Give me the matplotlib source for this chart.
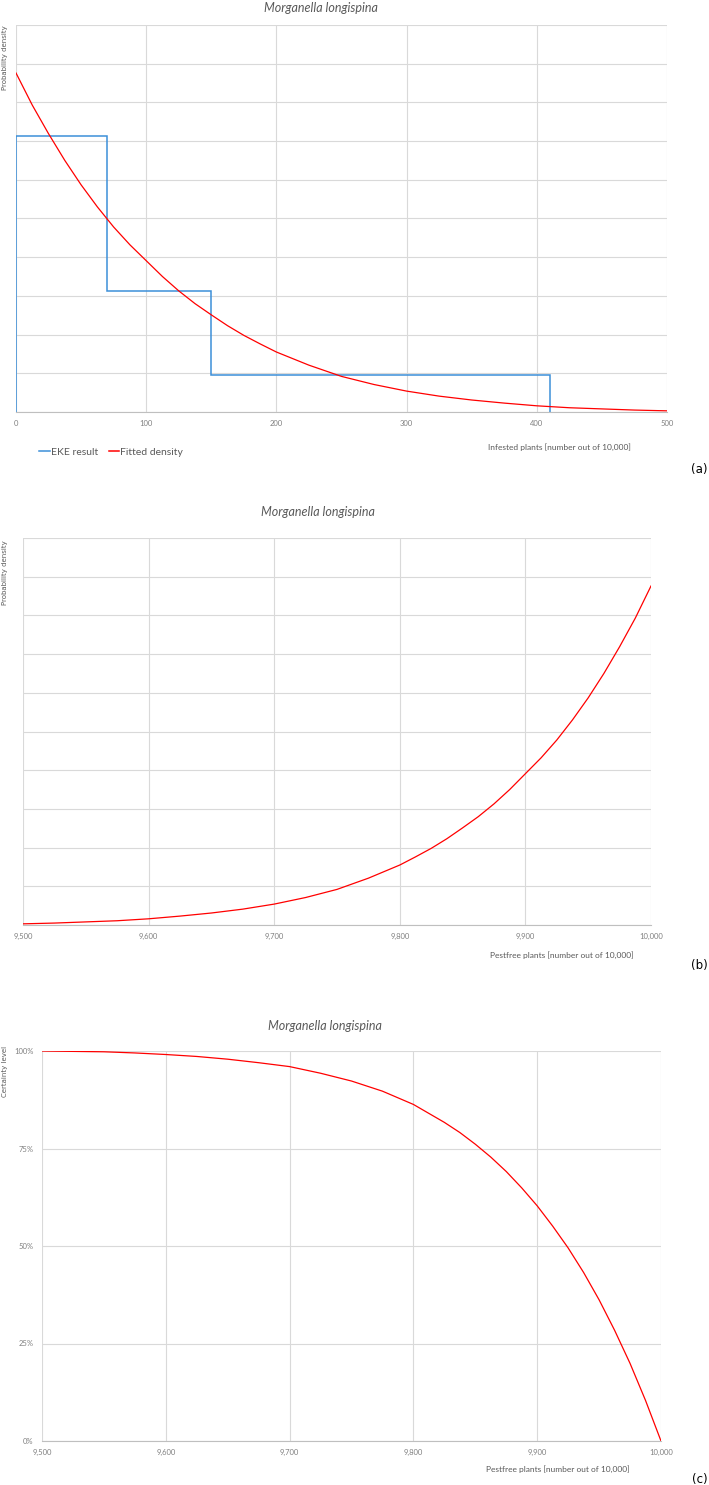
import matplotlib.pyplot as plt
from matplotlib.lines import Line2D
from matplotlib.ticker import StrMethodFormatter, PercentFormatter

plt.rcParams['font.family'] = ['Lato', 'DejaVu Sans']

# EKE result (histogram of the expert judgement)
eke_edges = [0, 70, 150, 410]
eke_density = [0.00714, 0.00312, 0.00096]

# fitted density, infested plants out of 10,000
infested = [0, 12.5, 25, 37.5, 50, 62.5, 75, 87.5, 100, 112.5, 125, 137.5,
            150, 162.5, 175, 187.5, 200, 225, 250, 275, 300, 325, 350, 375,
            400, 425, 450, 475, 500]
fitted = [0.00876, 0.00793, 0.00719, 0.00650, 0.00587, 0.00530, 0.00478,
          0.00432, 0.00391, 0.00350, 0.00313, 0.00280, 0.00251, 0.00223,
          0.00198, 0.00176, 0.00155, 0.00121, 0.00092, 0.00071, 0.00054,
          0.00041, 0.00031, 0.00023, 0.00016, 0.00011, 0.00008, 0.00005,
          0.00003]

# certainty level (panel c), pest free plants out of 10,000
pestfree = [9500, 9525, 9550, 9575, 9600, 9625, 9650, 9675, 9700, 9725,
            9750, 9775, 9800, 9812.5, 9825, 9837.5, 9850, 9862.5, 9875,
            9887.5, 9900, 9912.5, 9925, 9937.5, 9950, 9962.5, 9975,
            9987.5, 10000]
certainty = [1.000, 0.999, 0.998, 0.995, 0.991, 0.986, 0.979, 0.970,
             0.960, 0.943, 0.923, 0.897, 0.863, 0.840, 0.817, 0.791,
             0.761, 0.728, 0.691, 0.649, 0.603, 0.551, 0.495, 0.432,
             0.362, 0.284, 0.199, 0.104, 0.0]

title = 'Morganella longispina'
grey = '#595959'
grid_c = '#d9d9d9'
red = '#ff0000'
blue = '#3c8fd9'

W, H = 709, 1485
fig = plt.figure(figsize=(W / 100, H / 100), dpi=100)


def box(left, top, right, bottom):
    return [left / W, 1 - bottom / H, (right - left) / W, (bottom - top) / H]


def style(ax):
    for s in ax.spines.values():
        s.set_visible(False)
    ax.spines['bottom'].set_visible(True)
    ax.spines['bottom'].set_color('#bfbfbf')
    ax.grid(True, color=grid_c, lw=0.8)
    ax.set_axisbelow(True)
    ax.tick_params(length=0, labelsize=5.5, labelcolor='#808080', pad=6)


# (a)
ax1 = fig.add_axes(box(16, 25, 667, 412))
style(ax1)
ax1.stairs(eke_density, eke_edges, color=blue, lw=1.1, baseline=0)
ax1.plot(infested, fitted, color=red, lw=0.9)
ax1.set_xlim(0, 500)
ax1.set_ylim(0, 0.01)
ax1.set_xticks(range(0, 501, 100))
ax1.set_yticks([i / 1000 for i in range(11)])
ax1.set_yticklabels([])

# (b)
ax2 = fig.add_axes(box(23, 538, 651, 925))
style(ax2)
ax2.plot([10000 - v for v in infested], fitted, color=red, lw=0.9)
ax2.set_xlim(9500, 10000)
ax2.set_ylim(0, 0.01)
ax2.set_xticks(range(9500, 10001, 100))
ax2.xaxis.set_major_formatter(StrMethodFormatter('{x:,.0f}'))
ax2.set_yticks([i / 1000 for i in range(11)])
ax2.set_yticklabels([])

# (c)
ax3 = fig.add_axes(box(42, 1051, 661, 1441))
style(ax3)
ax3.plot(pestfree, certainty, color=red, lw=0.9)
ax3.set_xlim(9500, 10000)
ax3.set_ylim(0, 1)
ax3.set_xticks(range(9500, 10001, 100))
ax3.xaxis.set_major_formatter(StrMethodFormatter('{x:,.0f}'))
ax3.set_yticks([0, 0.25, 0.5, 0.75, 1.0])
ax3.yaxis.set_major_formatter(PercentFormatter(1.0, decimals=0))

# titles, axis titles, panel letters
for xc, yc in [(321, 8), (318, 512), (325, 1026)]:
    fig.text(xc / W, 1 - yc / H, title, ha='center', va='center',
             style='italic', fontsize=9, color=grey)

for yt, lab in [(25, 'Probability density'), (540, 'Probability density'),
                (1046, 'Certainty level')]:
    fig.text(5 / W, 1 - yt / H, lab, rotation=90, ha='center', va='top',
             fontsize=5, color=grey, family=['DejaVu Sans'])

for xc, yc, lab in [(559, 447, 'Infested plants [number out of 10,000]'),
                    (562, 955, 'Pestfree plants [number out of 10,000]'),
                    (558, 1469, 'Pestfree plants [number out of 10,000]')]:
    fig.text(xc / W, 1 - yc / H, lab, ha='center', va='center',
             fontsize=6, color=grey)

for yc, lab in [(470, '(a)'), (965, '(b)'), (1479, '(c)')]:
    fig.text(708 / W, 1 - yc / H, lab, ha='right', va='center',
             fontsize=8.5, color='black', family=['DejaVu Sans'])

handles = [Line2D([], [], color=blue, lw=1.1),
           Line2D([], [], color=red, lw=1.1)]
fig.legend(handles, ['EKE result', 'Fitted density'], loc='center left',
           bbox_to_anchor=(30 / W, 1 - 452 / H), ncol=2, frameon=False,
           fontsize=7.5, handlelength=1.0, handletextpad=0.1,
           columnspacing=1.0, labelcolor=grey)

fig.savefig('out.png', dpi=100)
